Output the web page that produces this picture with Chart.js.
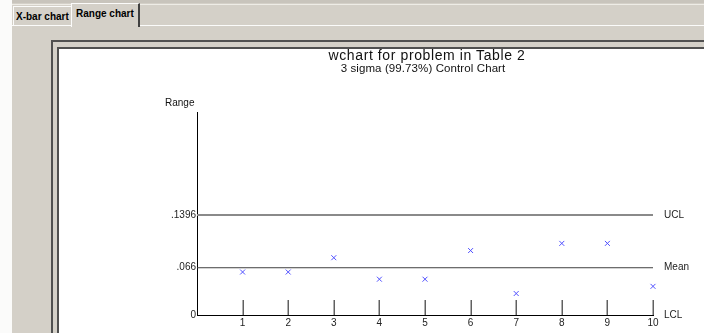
<!DOCTYPE html>
<html>
<head>
<meta charset="utf-8">
<script src="https://cdn.jsdelivr.net/npm/chart.js@4.4.1/dist/chart.umd.min.js"></script>
<style>
  html, body { margin: 0; padding: 0; }
  body { width: 704px; height: 333px; overflow: hidden; position: relative;
         background: #d4d0c8; font-family: "Liberation Sans", Arial, sans-serif; }
  .strip { position: absolute; left: 0; top: 0; width: 12px; height: 333px; background: #fbfbfa; }
  .topband { position: absolute; left: 12px; top: 0; width: 692px; height: 3px; background: #c8c4bc; }
  .tabline { position: absolute; left: 12px; top: 4px; width: 692px; height: 1px; background: #eeece6; }
  .panelline { position: absolute; left: 12px; top: 25px; width: 692px; height: 1px; background: #fbfbfa; }
  .tab { position: absolute; font-size: 10px; font-weight: bold; color: #000; white-space: nowrap; }
  .tab1 { left: 13px; top: 6px; width: 57px; height: 19px; border-top: 1px solid #fbfbfa;
          border-left: 1px solid #fbfbfa; line-height: 19px; text-indent: 2px; }
  .tab2 { left: 71px; top: 3px; width: 66px; height: 23px; background: #d4d0c8;
          border-top: 1px solid #fbfbfa; border-left: 1px solid #fbfbfa;
          border-right: 2px solid #404040; line-height: 19px; text-indent: 4px; }
  .frame1 { position: absolute; left: 51px; top: 40px; width: 700px; height: 400px;
            border-left: 2px solid #505050; border-top: 2px solid #505050; box-sizing: border-box; }
  .frame2 { position: absolute; left: 57px; top: 47px; width: 700px; height: 400px;
            border-left: 2px solid #505050; border-top: 2px solid #505050; background: #fff; box-sizing: border-box; }
  #wrap { position: absolute; left: 59px; top: 49px; width: 645px; height: 284px; }
  .txt { position: absolute; white-space: nowrap; color: #111; }
</style>
</head>
<body>
<div class="strip"></div>
<div class="topband"></div>
<div class="tabline"></div>
<div class="panelline"></div>
<div class="tab tab1">X-bar chart</div>
<div class="tab tab2">Range chart</div>
<div class="frame1"></div>
<div class="frame2"></div>
<div id="wrap"><canvas id="c" width="645" height="284"></canvas></div>
<div class="txt" style="left:0;width:854px;top:47px;text-align:center;font-size:14px;letter-spacing:0.6px;">wchart for problem in Table 2</div>
<div class="txt" style="left:0;width:846px;top:62px;text-align:center;font-size:11.5px;letter-spacing:0.1px;">3 sigma (99.73%) Control Chart</div>
<div class="txt" style="left:165px;top:97px;font-size:10px;">Range</div>
<script>
// Subgroup numbers and their ranges
const subgroups = [1, 2, 3, 4, 5, 6, 7, 8, 9, 10];
const ranges = [0.06, 0.06, 0.08, 0.05, 0.05, 0.09, 0.03, 0.10, 0.10, 0.04];

// Control limits
const ucl = 0.1396;
const mean = 0.066;
const lcl = 0;
const limitValues = [lcl, mean, ucl];
const leftTickLabels = ['0', '.066', '.1396'];
const rightTickLabels = ['LCL', 'Mean', 'UCL'];

const yMax = 0.2835;
const font = { family: '"Liberation Sans", Arial, sans-serif', size: 10 };
const noGrid = { display: false, drawTicks: false, tickLength: 0 };

// short vertical marks standing on the axis at each subgroup
const subgroupMarks = {
  id: 'subgroupMarks',
  beforeDatasetsDraw(chart) {
    const { ctx, scales } = chart;
    const y0 = scales.y.getPixelForValue(0);
    ctx.save();
    ctx.strokeStyle = '#606060';
    ctx.lineWidth = 1.5;
    subgroups.forEach(s => {
      const x = Math.round(scales.x.getPixelForValue(s)) + 0.25;
      ctx.beginPath();
      ctx.moveTo(x, y0);
      ctx.lineTo(x, y0 - 15);
      ctx.stroke();
    });
    ctx.restore();
  }
};

const xEnd = subgroups[subgroups.length - 1];

new Chart(document.getElementById('c'), {
  type: 'scatter',
  data: {
    datasets: [
      {
        label: 'UCL',
        type: 'line',
        data: [{ x: 0, y: ucl }, { x: xEnd, y: ucl }],
        borderColor: '#8a8a8a',
        borderWidth: 2,
        pointRadius: 0,
        yAxisID: 'y'
      },
      {
        label: 'Mean',
        type: 'line',
        data: [{ x: 0, y: mean }, { x: xEnd, y: mean }],
        borderColor: '#404040',
        borderWidth: 1,
        pointRadius: 0,
        yAxisID: 'y'
      },
      {
        label: 'Range',
        data: subgroups.map((s, i) => ({ x: s, y: ranges[i] })),
        pointStyle: 'crossRot',
        pointRadius: 3.5,
        borderColor: '#5050ff',
        borderWidth: 1,
        clip: false,
        yAxisID: 'y'
      }
    ]
  },
  options: {
    responsive: false,
    animation: false,
    layout: { padding: { top: 63, left: 0, right: 0, bottom: 0 } },
    plugins: { legend: { display: false }, tooltip: { enabled: false }, title: { display: false } },
    scales: {
      x: {
        type: 'linear',
        min: 0,
        max: xEnd,
        grid: noGrid,
        border: { display: true, color: '#000', width: 1 },
        afterBuildTicks(scale) { scale.ticks = subgroups.map(v => ({ value: v })); },
        afterFit(scale) { scale.height = 18; scale.paddingLeft = 0; scale.paddingRight = 0; },
        ticks: { font, color: '#222', padding: 2, maxRotation: 0, autoSkip: false,
                 callback: v => String(v) }
      },
      y: {
        position: 'left',
        min: 0,
        max: yMax,
        grid: noGrid,
        border: { display: true, color: '#000', width: 1 },
        afterBuildTicks(scale) { scale.ticks = limitValues.map(v => ({ value: v })); },
        afterFit(scale) { scale.width = 138; scale.paddingTop = 0; scale.paddingBottom = 0; },
        ticks: { font, color: '#222', padding: 1,
                 callback: (v, i) => leftTickLabels[i] }
      },
      yr: {
        position: 'right',
        min: 0,
        max: yMax,
        grid: noGrid,
        border: { display: false },
        afterBuildTicks(scale) { scale.ticks = limitValues.map(v => ({ value: v })); },
        afterFit(scale) { scale.width = 51; scale.paddingTop = 0; scale.paddingBottom = 0; },
        ticks: { font, color: '#222', padding: 11, crossAlign: 'near',
                 callback: (v, i) => rightTickLabels[i] }
      }
    }
  },
  plugins: [subgroupMarks]
});
</script>
</body>
</html>
